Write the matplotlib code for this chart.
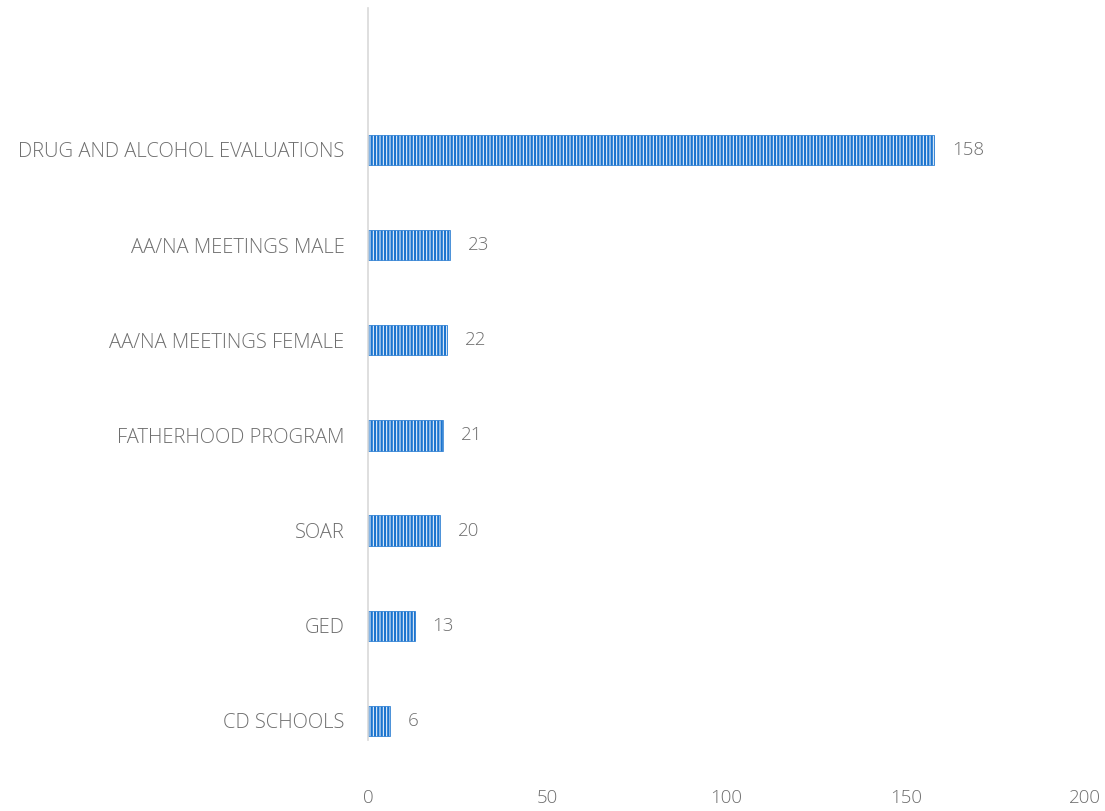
import matplotlib
matplotlib.use('Agg')
import matplotlib.pyplot as plt

# --- data ---
categories = ['CD SCHOOLS', 'GED', 'SOAR', 'FATHERHOOD PROGRAM',
              'AA/NA MEETINGS FEMALE', 'AA/NA MEETINGS MALE',
              'DRUG AND ALCOHOL EVALUATIONS']
values = [6, 13, 20, 21, 22, 23, 158]
x_ticks = [0, 50, 100, 150, 200]

plt.rcParams['font.family'] = ['Open Sans', 'DejaVu Sans']
plt.rcParams['hatch.linewidth'] = 1.7

fig = plt.figure(figsize=(11.05, 8.11), dpi=100)
ax = fig.add_axes([368 / 1105, 71 / 811, (1085 - 368) / 1105, 732 / 811])

blue = '#1b74cf'
grey = '#6e6e6e'
pos = range(len(categories))
ax.barh(pos, values, height=0.32, color='white', edgecolor=blue,
        hatch='|' * 5, linewidth=0.5)

for p, v in zip(pos, values):
    ax.text(v + 5, p, str(v), va='center', ha='left', fontsize=13.5,
            color=grey, fontweight='light')

ax.set_xlim(0, 200)
ax.set_ylim(-0.2, 7.49)
ax.set_xticks(x_ticks)
ax.set_xticklabels([str(t) for t in x_ticks], fontsize=13.5, color=grey,
                   fontweight='light')
ax.set_yticks(list(pos))
ax.set_yticklabels(categories, fontsize=14.5, color=grey, fontweight='light')
ax.tick_params(axis='x', length=0, pad=35)
ax.tick_params(axis='y', length=0, pad=17)

for s in ['top', 'right', 'bottom']:
    ax.spines[s].set_visible(False)
ax.spines['left'].set_color('#d9d9d9')
ax.spines['left'].set_linewidth(1.2)

fig.savefig('out.png', dpi=100)
